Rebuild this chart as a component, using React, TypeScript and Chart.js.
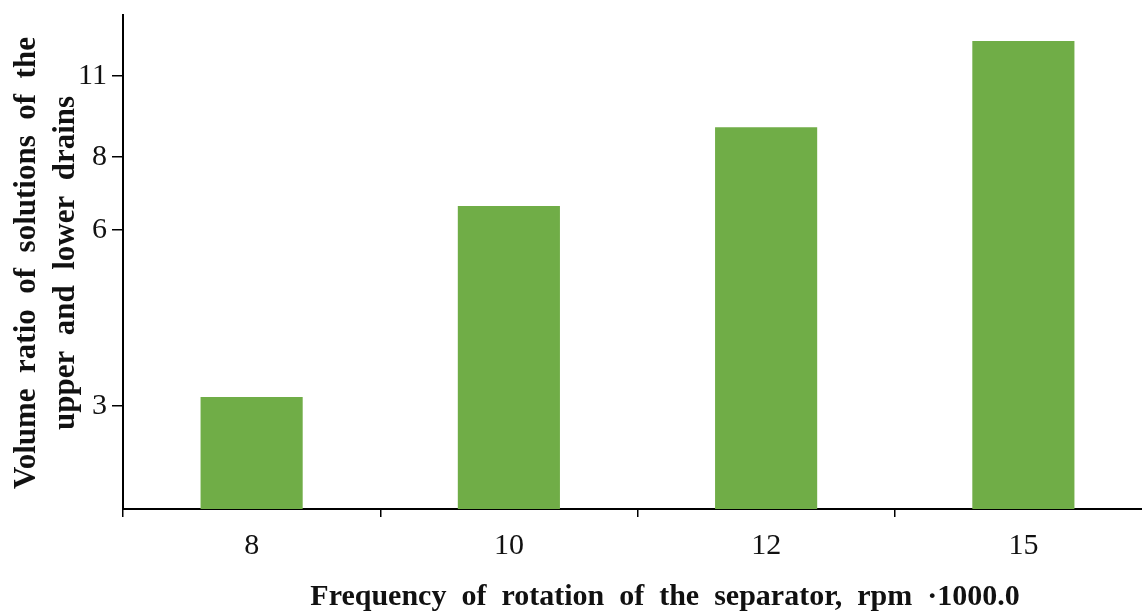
import React, { useEffect, useRef } from "react";
import { Chart, registerables } from "chart.js";

Chart.register(...registerables);

const CATEGORIES = ["8", "10", "12", "15"];
const VOLUME_RATIO = [3.11, 6.6, 9.0, 12.64];
const Y_TICKS = [3, 6, 8, 11];
const Y_TITLE = ["Volume  ratio  of  solutions  of  the", "upper  and  lower  drains"];
const X_TITLE = "Frequency  of  rotation  of  the  separator,  rpm  \u00b71000.0";

const titlePlugin = {
  id: "customTitles",
  afterDraw(chart: any) {
    const ctx = chart.ctx as CanvasRenderingContext2D;
    ctx.save();
    ctx.fillStyle = "#111";
    ctx.font = 'bold 31px "Liberation Serif"';
    ctx.textAlign = "center";
    ctx.textBaseline = "alphabetic";
    const cy = 263;
    ctx.save();
    ctx.translate(35, cy);
    ctx.rotate(-Math.PI / 2);
    ctx.fillText(Y_TITLE[0], 0, 0);
    ctx.restore();
    ctx.save();
    ctx.translate(74, cy);
    ctx.rotate(-Math.PI / 2);
    ctx.fillText(Y_TITLE[1], 0, 0);
    ctx.restore();
    ctx.font = 'bold 30px "Liberation Serif"';
    ctx.fillText(X_TITLE, 665, 605);
    ctx.restore();
  },
};

export default function App() {
  const ref = useRef<HTMLCanvasElement | null>(null);
  useEffect(() => {
    if (!ref.current) return;
    const chart = new Chart(ref.current, {
      type: "bar",
      data: {
        labels: CATEGORIES,
        datasets: [
          {
            data: VOLUME_RATIO,
            backgroundColor: "#70AD47",
            borderWidth: 0,
            barPercentage: 0.397,
            categoryPercentage: 1,
          },
        ],
      },
      plugins: [titlePlugin],
      options: {
        animation: false,
        responsive: false,
        maintainAspectRatio: false,
        layout: { padding: { top: 15, left: 0, right: 0, bottom: 0 } },
        plugins: {
          legend: { display: false },
          tooltip: { enabled: false },
          title: { display: false },
        },
        scales: {
          x: {
            type: "category",
            offset: true,
            afterFit: (s: any) => {
              s.height = 106;
              s.paddingLeft = 0;
              s.paddingRight = 0;
            },
            grid: {
              offset: true,
              drawOnChartArea: false,
              drawTicks: true,
              tickLength: 8,
              color: "#000",
              lineWidth: 1.5,
            },
            border: { display: true, color: "#000", width: 2 },
            ticks: {
              color: "#111",
              padding: 11,
              font: { family: '"Liberation Serif"', size: 30 },
            },
          },
          y: {
            type: "logarithmic",
            min: 2,
            max: 14,
            afterFit: (s: any) => {
              s.width = 123;
              s.paddingTop = 0;
              s.paddingBottom = 0;
            },
            afterBuildTicks: (s: any) => {
              s.ticks = Y_TICKS.map((v) => ({ value: v }));
            },
            grid: {
              drawOnChartArea: false,
              drawTicks: true,
              tickLength: 11,
              color: "#000",
              lineWidth: 1.5,
            },
            border: { display: true, color: "#000", width: 2 },
            ticks: {
              color: "#111",
              padding: 5,
              autoSkip: false,
              font: { family: '"Liberation Serif"', size: 30 },
              callback: (v: any) => String(v),
            },
          },
        },
      },
    });
    return () => chart.destroy();
  }, []);
  return (
    <div
      style={{
        position: "absolute",
        left: 0,
        top: 0,
        width: 1142,
        height: 615,
        overflow: "hidden",
        background: "#fff",
      }}
    >
      <canvas ref={ref} width={1152} height={615} style={{ display: "block", width: 1152, height: 615 }} />
    </div>
  );
}
